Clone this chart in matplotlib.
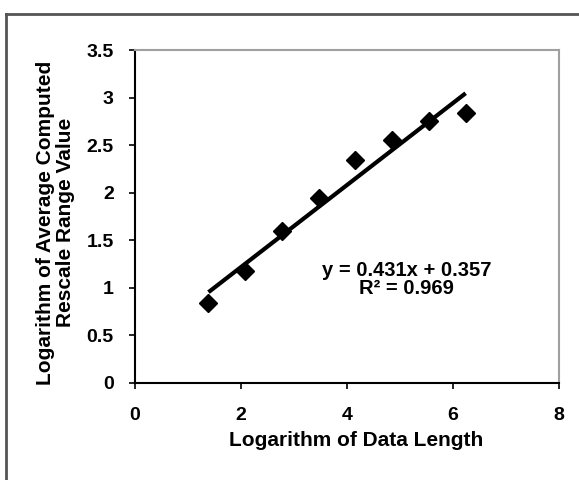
import numpy as np
import matplotlib
matplotlib.use("Agg")
from matplotlib import pyplot as plt
from matplotlib.lines import Line2D

plt.rcParams['font.family'] = ['Liberation Sans', 'DejaVu Sans']
plt.rcParams['font.weight'] = 'bold'

# data
log_length = [1.386, 2.079, 2.773, 3.466, 4.159, 4.852, 5.545, 6.238]
log_rs = [0.84, 1.18, 1.60, 1.94, 2.34, 2.55, 2.75, 2.84]
slope, intercept, r2 = 0.431, 0.357, 0.969

fig = plt.figure(figsize=(5.79, 4.8), dpi=100)
ax = fig.add_axes([0.2332, 0.2021, 0.7323, 0.6937])

# trendline
xs = np.array([log_length[0], log_length[-1]])
ax.plot(xs, slope * xs + intercept, color='black', lw=3, solid_capstyle='butt', zorder=2)
ax.plot(log_length, log_rs, 'D', color='black', markersize=9, zorder=3)

ax.text(5.13, 1.09, f"y = {slope}x + {intercept}\nR² = {r2}", ha='center', va='center',
        fontsize=14.5, fontweight='bold', linespacing=0.95)

ax.set_xlim(0, 8)
ax.set_ylim(0, 3.5)
ax.set_xticks([0, 2, 4, 6, 8])
ax.set_yticks([0, 0.5, 1, 1.5, 2, 2.5, 3, 3.5])
ax.set_yticklabels(['0', '0.5', '1', '1.5', '2', '2.5', '3', '3.5'])
ax.tick_params(direction='out', length=4.3, width=1.2, labelsize=14)
ax.tick_params(axis='x', pad=13)
ax.tick_params(axis='y', pad=11)
for lab in ax.get_xticklabels() + ax.get_yticklabels():
    lab.set_fontweight('bold')

ax.spines['left'].set_color('black')
ax.spines['bottom'].set_color('black')
ax.spines['left'].set_linewidth(1.5)
ax.spines['bottom'].set_linewidth(1.5)
ax.spines['top'].set_color('#a0a0a0')
ax.spines['right'].set_color('#a0a0a0')
ax.spines['top'].set_linewidth(1.5)
ax.spines['right'].set_linewidth(1.5)

ax.set_xlabel("Logarithm of Data Length", fontsize=15, fontweight='bold')
ax.set_ylabel("Logarithm of Average Computed\nRescale Range Value", fontsize=15,
              fontweight='bold', linespacing=1.05)
ax.xaxis.set_label_coords(0.521, -0.145)
ax.yaxis.set_label_coords(-0.142, 0.482)

# outer border (cut off at right and bottom)
fig.add_artist(Line2D([6 / 579, 1.0], [1 - 14 / 480, 1 - 14 / 480], transform=fig.transFigure,
                      color='#555555', lw=2))
fig.add_artist(Line2D([6 / 579, 6 / 579], [0, 1 - 14 / 480], transform=fig.transFigure,
                      color='#555555', lw=2))

fig.savefig("out.png", dpi=100)
